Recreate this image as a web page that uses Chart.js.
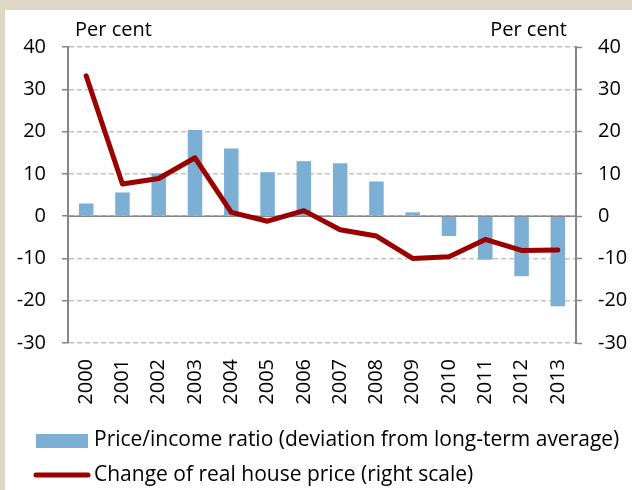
<!DOCTYPE html>
<html>
<head>
<meta charset="utf-8">
<script src="https://cdn.jsdelivr.net/npm/chart.js@4/dist/chart.umd.min.js"></script>
<style>
  html, body { margin: 0; padding: 0; background: #ffffff; }
  #wrap { width: 632px; height: 490px; position: relative; }
</style>
</head>
<body>
<div id="wrap"><canvas id="c" width="632" height="490"></canvas></div>
<script>
// ---- data ----
const years = ['2000','2001','2002','2003','2004','2005','2006','2007','2008','2009','2010','2011','2012','2013'];
const priceIncomeRatio = [3.0, 5.6, 10.1, 20.4, 16.0, 10.4, 13.0, 12.5, 8.2, 0.9, -4.7, -10.3, -14.2, -21.3];
const realHousePriceChange = [33.2, 7.6, 8.9, 13.8, 0.9, -1.2, 1.3, -3.2, -4.7, -10.0, -9.6, -5.5, -8.1, -8.0];
const axisMin = -30;
const axisMax = 40;
const axisStep = 10;
const leftAxisTitle = 'Per cent';
const rightAxisTitle = 'Per cent';
const barLabel = 'Price/income ratio (deviation from long-term average)';
const lineLabel = 'Change of real house price (right scale)';

const FONT = '"Open Sans", Lato, "Liberation Sans", sans-serif';
const BAR_COLOR = '#7BAFD4';
const LINE_COLOR = '#9B0000';
const AXIS_COLOR = '#868686';
const GRID_COLOR = '#C2C2C2';

const framePlugin = {
  id: 'frame',
  beforeDraw(chart) {
    const ctx = chart.ctx;
    ctx.save();
    ctx.fillStyle = '#DDD8C5';
    ctx.fillRect(0, 0, chart.width, chart.height);
    ctx.fillStyle = '#ffffff';
    ctx.fillRect(5, 10, chart.width - 5, chart.height - 10);
    ctx.restore();
  },
  beforeDatasetsDraw(chart) {
    const ctx = chart.ctx;
    const y = chart.scales.y.getPixelForValue(0);
    ctx.save();
    ctx.strokeStyle = AXIS_COLOR;
    ctx.lineWidth = 1.5;
    ctx.beginPath();
    ctx.moveTo(chart.chartArea.left, y);
    ctx.lineTo(chart.chartArea.right, y);
    ctx.stroke();
    ctx.restore();
  },
  afterDraw(chart) {
    const ctx = chart.ctx;
    const a = chart.chartArea;
    ctx.save();
    ctx.fillStyle = '#000';
    ctx.font = '20px ' + FONT;
    ctx.textBaseline = 'middle';
    ctx.textAlign = 'left';
    ctx.fillText(leftAxisTitle, a.left + 7, 30);
    ctx.textAlign = 'right';
    ctx.fillText(rightAxisTitle, a.right - 9, 30);
    // legend
    ctx.fillStyle = BAR_COLOR;
    ctx.fillRect(36, 434, 52, 14);
    ctx.strokeStyle = LINE_COLOR;
    ctx.lineWidth = 5;
    ctx.lineCap = 'round';
    ctx.beginPath();
    ctx.moveTo(36, 475);
    ctx.lineTo(88, 475);
    ctx.stroke();
    ctx.fillStyle = '#000';
    ctx.textAlign = 'left';
    ctx.font = '21px ' + FONT;
    ctx.fillText(barLabel, 94, 440);
    ctx.fillText(lineLabel, 94, 475);
    ctx.restore();
  }
};

const tickFont = { family: FONT, size: 20 };

new Chart(document.getElementById('c'), {
  data: {
    labels: years,
    datasets: [
      {
        type: 'line',
        label: lineLabel,
        data: realHousePriceChange,
        yAxisID: 'y1',
        borderColor: LINE_COLOR,
        borderWidth: 5,
        pointRadius: 0,
        tension: 0,
        borderCapStyle: 'round',
        borderJoinStyle: 'round',
        order: 0
      },
      {
        type: 'bar',
        label: barLabel,
        data: priceIncomeRatio,
        yAxisID: 'y',
        backgroundColor: BAR_COLOR,
        barPercentage: 0.4,
        categoryPercentage: 1.0,
        order: 1
      }
    ]
  },
  options: {
    responsive: false,
    animation: false,
    devicePixelRatio: 1,
    layout: { padding: { top: 47, left: 0, right: 0, bottom: 0 } },
    plugins: { legend: { display: false }, tooltip: { enabled: false } },
    scales: {
      x: {
        offset: true,
        grid: { display: false, drawTicks: false },
        border: { display: false },
        ticks: { font: tickFont, color: '#000', minRotation: 90, maxRotation: 90, autoSkip: false, padding: 16 },
        afterFit(s) { s.height = 147; }
      },
      y: {
        position: 'left',
        min: axisMin, max: axisMax,
        ticks: { stepSize: axisStep, font: tickFont, color: '#000', padding: 16 },
        grid: { color: GRID_COLOR, lineWidth: 1.5, tickColor: AXIS_COLOR, tickLength: 6, tickWidth: 1.5, tickBorderDash: [] },
        border: { display: true, color: AXIS_COLOR, width: 2, dash: [5, 3] },
        afterFit(s) { s.width = 68; }
      },
      y1: {
        position: 'right',
        min: axisMin, max: axisMax,
        ticks: { stepSize: axisStep, font: tickFont, color: '#000', padding: 16 },
        grid: { drawOnChartArea: false, tickColor: AXIS_COLOR, tickLength: 6, tickWidth: 1.5 },
        border: { display: true, color: AXIS_COLOR, width: 2 },
        afterFit(s) { s.width = 56; }
      }
    }
  },
  plugins: [framePlugin]
});
</script>
</body>
</html>
